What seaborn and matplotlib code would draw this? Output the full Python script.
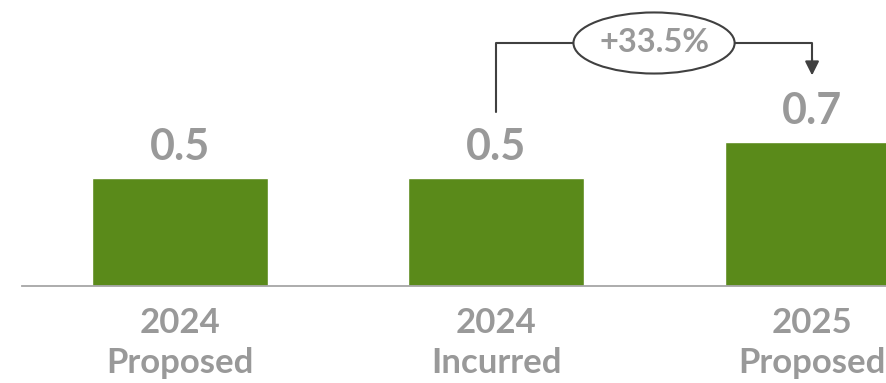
import matplotlib
matplotlib.use("Agg")
import matplotlib.pyplot as plt
from matplotlib.patches import Ellipse
import seaborn as sns
import pandas as pd

categories = ["2024\nProposed", "2024\nIncurred", "2025\nProposed"]
values = [0.52, 0.52, 0.694]
value_labels = ["0.5", "0.5", "0.7"]
change_label = "+33.5%"

BAR = "#5a8a1a"
TXT = "#999999"
LINE = "#404040"

sns.set_theme(style="white")
plt.rcParams["font.family"] = ["Lato", "DejaVu Sans"]

fig = plt.figure(figsize=(8.86, 3.83), dpi=100)
ax = fig.add_axes([22 / 886, 97 / 383, 864 / 886, 286 / 383])

df = pd.DataFrame({"cat": categories, "val": values})
sns.barplot(data=df, x="cat", y="val", color=BAR, saturation=1, width=0.554, ax=ax)

ax.set_xlim(-0.5, 2.234)
ax.set_ylim(0, 1.377)
ax.set_xlabel("")
ax.set_ylabel("")
ax.set_yticks([])
for s in ["top", "left", "right"]:
    ax.spines[s].set_visible(False)
ax.spines["bottom"].set_color("#a6a6a6")
ax.spines["bottom"].set_linewidth(1.3)
ax.tick_params(axis="x", length=0, pad=15)
ax.set_xticks(range(len(categories)))
ax.set_xticklabels(categories, fontsize=25, fontweight="bold", color=TXT, linespacing=1.3)

for i, (v, lab) in enumerate(zip(values, value_labels)):
    ax.annotate(lab, (i, v), xytext=(0, 13), textcoords="offset points",
                ha="center", va="baseline", fontsize=31, fontweight="bold", color=TXT)

# bracket annotation from bar 2 to bar 3
top = max(values) + 0.476
y_start = values[1] + 0.32
y_end = values[2] + 0.32
ex = 1.5
ew = 0.51
ax.plot([1, 1, ex - ew / 2], [y_start, top, top], color=LINE, lw=1.5, clip_on=False)
ax.plot([ex + ew / 2, 2, 2], [top, top, y_end + 0.07], color=LINE, lw=1.5, clip_on=False)
ax.annotate("", xy=(2, y_end), xytext=(2, y_end + 0.08),
            arrowprops=dict(arrowstyle="-|>,head_length=0.7,head_width=0.35",
                            color=LINE, lw=1.5, shrinkA=0, shrinkB=0))
ax.add_patch(Ellipse((ex, top), ew, 0.294, facecolor="white", edgecolor=LINE,
                     lw=1.5, clip_on=False, zorder=5))
ax.text(ex, top, change_label, ha="center", va="center", fontsize=23.5,
        fontweight="bold", color=TXT, zorder=6)

fig.savefig("out.png", dpi=100)
